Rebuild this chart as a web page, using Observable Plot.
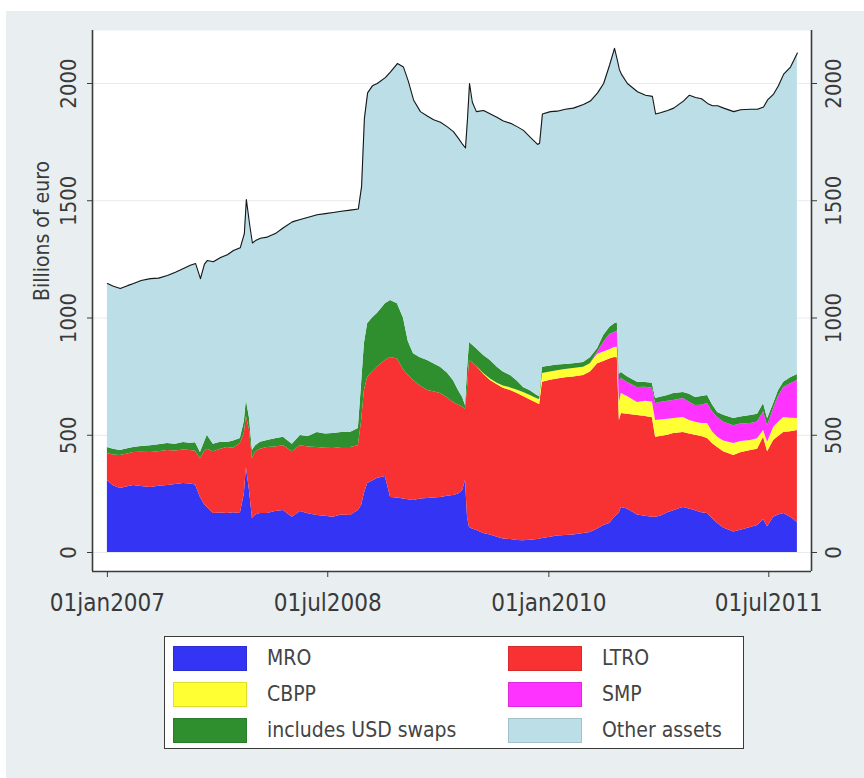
<!DOCTYPE html>
<html>
<head>
<meta charset="utf-8">
<script src="https://cdn.jsdelivr.net/npm/d3@7"></script>
<script src="https://cdn.jsdelivr.net/npm/@observablehq/plot@0.6"></script>
<style>
  html, body { margin: 0; padding: 0; background: #ffffff; }
  #page { position: relative; width: 864px; height: 778px; overflow: hidden; background: #ffffff; }
  #panel { position: absolute; left: 6px; top: 11px; width: 858px; height: 767px; background: #e9eff1; }
  #chart { position: absolute; left: 0; top: 0; }
  #legend {
    position: absolute; left: 164px; top: 636px; width: 580px; height: 113px;
    background: #ffffff; border: 1.5px solid #3a3a3a; box-sizing: border-box;
    font-family: "Liberation Sans Narrow", "DejaVu Sans Condensed", "Liberation Sans", sans-serif;
    font-size: 21px; color: #444444;
  }
  .item { position: absolute; display: flex; align-items: center; height: 26px; }
  .sw { width: 74px; height: 25px; box-sizing: border-box; margin-right: 20px; }
</style>
</head>
<body>
<div id="page">
  <div id="panel"></div>
  <div id="chart"></div>
  <div id="legend"></div>
</div>
<script>
// Eurosystem balance sheet, assets in billions of euro (weekly statements, sampled)
const dates = [
  "2007-01-01","2007-01-16","2007-02-02","2007-02-20","2007-03-07","2007-03-26","2007-04-18","2007-05-08",
  "2007-05-30","2007-06-19","2007-07-09","2007-07-26","2007-08-08","2007-08-20","2007-08-30","2007-09-06",
  "2007-09-21","2007-10-09","2007-10-26","2007-11-10","2007-11-27","2007-12-07","2007-12-12","2007-12-20",
  "2007-12-27","2008-01-04","2008-01-16","2008-02-02","2008-02-22","2008-03-13","2008-04-04","2008-04-24",
  "2008-05-14","2008-06-05","2008-06-25","2008-07-15","2008-08-04","2008-08-26","2008-09-15","2008-09-23",
  "2008-09-30","2008-10-08","2008-10-20","2008-11-01","2008-11-21","2008-12-04","2008-12-21","2009-01-05",
  "2009-01-17","2009-01-30","2009-02-16","2009-03-06","2009-03-21","2009-04-07","2009-04-24","2009-05-09",
  "2009-05-22","2009-06-01","2009-06-08","2009-06-13","2009-06-18","2009-06-25","2009-07-05","2009-07-23",
  "2009-08-09","2009-08-26","2009-09-10","2009-09-28","2009-10-15","2009-10-30","2009-11-16","2009-12-04",
  "2009-12-09","2009-12-16","2010-01-05","2010-01-22","2010-02-11","2010-03-03","2010-03-28","2010-04-14",
  "2010-05-02","2010-05-17","2010-06-01","2010-06-13","2010-06-20","2010-06-25","2010-06-30","2010-07-15",
  "2010-08-09","2010-08-29","2010-09-15","2010-09-23","2010-10-05","2010-10-23","2010-11-07","2010-11-19",
  "2010-12-01","2010-12-16","2010-12-31","2011-01-15","2011-01-30","2011-02-11","2011-02-24","2011-03-11",
  "2011-04-05","2011-04-22","2011-05-17","2011-06-03","2011-06-18","2011-06-28","2011-07-13","2011-07-25",
  "2011-08-07","2011-08-24","2011-09-10"
];

// Main refinancing operations
const mro = [
  307,285,273,280,286,282,277,283, 286,290,294,292,288,235,205,192,
  166,168,166,170,166,250,363,260, 145,160,166,166,175,179,150,175,
  165,158,155,150,160,158,179,200, 252,294,305,316,324,235,232,228,
  225,222,228,230,232,235,240,243, 250,264,307,150,107,100,95,81,
  75,65,58,55,51,50,52,55, 56,60,65,70,72,75,81,85,
  100,115,124,150,160,170,192,185, 160,155,150,150,155,170,178,185,
  192,185,178,170,166,145,124,105, 87,95,107,115,140,110,150,160,
  166,150,128
];

// Longer-term refinancing operations
const ltro = [
  115,131,141,140,140,146,149,147, 149,143,143,143,144,165,225,248,
  264,272,282,275,299,260,217,260, 255,270,274,282,275,276,280,280,
  285,290,290,294,288,290,276,360, 439,453,465,474,495,597,593,552,
  530,511,482,461,453,443,420,397, 378,356,303,550,712,710,700,679,
  658,650,642,636,627,615,598,580, 574,666,670,670,673,673,674,685,
  705,700,701,682,670,393,401,405, 424,425,425,341,340,330,329,325,
  320,320,322,325,320,320,324,325, 327,330,328,325,351,320,328,335,
  346,365,392
];

// Covered bond purchase programme
const cbpp = [
  0,0,0,0,0,0,0,0, 0,0,0,0,0,0,0,0,
  0,0,0,0,0,0,0,0, 0,0,0,0,0,0,0,0,
  0,0,0,0,0,0,0,0, 0,0,0,0,0,0,0,0,
  0,0,0,0,0,0,0,0, 0,0,0,0,0,0,0,3,
  7,7,10,11,14,17,20,20, 22,37,35,35,35,37,35,35,
  40,40,40,42,45,77,85,75, 56,65,67,72,70,68,64,64,
  64,58,55,55,64,50,43,45, 51,48,43,45,29,40,55,60,
  64,58,51
];

// Securities markets programme
const smp = [
  0,0,0,0,0,0,0,0, 0,0,0,0,0,0,0,0,
  0,0,0,0,0,0,0,0, 0,0,0,0,0,0,0,0,
  0,0,0,0,0,0,0,0, 0,0,0,0,0,0,0,0,
  0,0,0,0,0,0,0,0, 0,0,0,0,0,0,0,0,
  0,0,0,0,0,0,0,0, 0,0,0,0,0,0,0,0,
  10,40,65,64,70,90,64,60, 64,60,58,72,75,77,77,78,
  81,78,72,78,85,85,85,80, 76,75,72,72,80,70,81,110,
  128,147,162
];

// Other lending, including USD swap operations
const usd = [
  26,24,21,22,22,24,29,30, 30,29,32,31,36,26,40,60,
  32,30,21,30,21,50,70,50, 35,25,30,30,35,36,32,44,
  45,64,60,63,64,64,74,160, 200,229,230,229,242,243,236,220,
  145,115,120,128,120,112,105,93, 62,41,17,80,77,75,75,77,
  79,68,60,53,38,22,20,13, 13,27,25,25,22,20,20,25,
  15,30,30,38,35,30,26,25, 22,20,22,22,22,25,30,28,
  25,34,34,37,35,30,21,30, 30,30,34,33,35,30,21,25,
  22,25,26
];

// Total assets (black line)
const total = [
  1147,1135,1126,1138,1147,1160,1168,1170, 1181,1195,1211,1225,1232,1168,1230,1245,
  1240,1258,1270,1288,1300,1360,1505,1400, 1320,1330,1340,1345,1360,1385,1410,1420,
  1430,1440,1445,1450,1455,1460,1465,1560, 1850,1960,1990,2000,2025,2050,2085,2070,
  2010,1930,1880,1860,1845,1835,1815,1795, 1765,1740,1725,1850,2000,1920,1880,1885,
  1870,1855,1840,1830,1815,1800,1770,1740, 1745,1870,1880,1882,1890,1895,1910,1925,
  1960,2000,2080,2150,2100,2060,2040,2000, 1965,1950,1945,1870,1875,1885,1895,1910,
  1925,1950,1940,1935,1915,1905,1905,1895, 1880,1888,1890,1890,1900,1930,1955,1990,
  2040,2070,2130
];

const seriesNames = ["MRO", "LTRO", "CBPP", "SMP", "includes USD swaps", "Other assets"];
const seriesColors = ["#3434f4", "#f83232", "#ffff33", "#ff33ff", "#2f8f2f", "#bcdfe7"];
const yTicks = [0, 500, 1000, 1500, 2000];
const xTicks = ["2007-01-01", "2008-07-01", "2010-01-01", "2011-07-01"];

const parse = d3.utcParse("%Y-%m-%d");
const FONT = '"Liberation Sans Narrow", "DejaVu Sans Condensed", "Liberation Sans", sans-serif';

// Long table for the stacked areas; "Other assets" fills up to the total.
const components = [mro, ltro, cbpp, smp, usd];
const other = total.map((t, i) => t - components.reduce((s, a) => s + a[i], 0));
const stackRows = [];
[...components, other].forEach((arr, k) => {
  arr.forEach((v, i) => stackRows.push({date: parse(dates[i]), series: seriesNames[k], value: v}));
});
const totalRows = total.map((v, i) => ({date: parse(dates[i]), value: v}));

const xDomain = [parse("2006-11-25"), parse("2011-10-15")];
const yDomain = [-81, 2226];
const fmtDate = d => d3.utcFormat("%d%b%Y")(d).toLowerCase();
const axisColor = "#3a3a3a";

const chart = Plot.plot({
  width: 864,
  height: 625,
  marginLeft: 92,
  marginRight: 53,
  marginTop: 30,
  marginBottom: 54,
  style: {background: "transparent", fontFamily: FONT, color: axisColor},
  x: {type: "utc", domain: xDomain, axis: null},
  y: {domain: yDomain, axis: null},
  color: {domain: seriesNames, range: seriesColors},
  marks: [
    Plot.frame({fill: "white", stroke: null}),
    Plot.ruleY(yTicks, {stroke: "#e6ecec", strokeWidth: 1}),
    Plot.areaY(stackRows, {x: "date", y: "value", z: "series", fill: "series", order: seriesNames}),
    Plot.lineY(totalRows, {x: "date", y: "value", stroke: "#161616", strokeWidth: 1.1}),
    // axis lines: left, right, bottom
    Plot.ruleX([xDomain[0], xDomain[1]], {stroke: axisColor, strokeWidth: 1.6}),
    Plot.ruleY([yDomain[0]], {stroke: axisColor, strokeWidth: 1.6}),
    // tick marks
    Plot.axisY(yTicks, {anchor: "left", tickSize: 5, tickFormat: () => "", label: null, stroke: axisColor}),
    Plot.axisY(yTicks, {anchor: "right", tickSize: 5, tickFormat: () => "", label: null, stroke: axisColor}),
    Plot.axisX(xTicks.map(parse), {anchor: "bottom", tickSize: 6, tickFormat: () => "", label: null, stroke: axisColor}),
    // tick labels
    Plot.text(yTicks, {y: d => d, text: d => String(d), frameAnchor: "left", dx: -24, rotate: -90,
      textAnchor: "middle", lineAnchor: "middle", fontSize: 22, fill: axisColor}),
    Plot.text(yTicks, {y: d => d, text: d => String(d), frameAnchor: "right", dx: 22, rotate: -90,
      textAnchor: "middle", lineAnchor: "middle", fontSize: 22, fill: axisColor}),
    Plot.text(xTicks.map(parse), {x: d => d, text: fmtDate, frameAnchor: "bottom", dy: 32,
      lineAnchor: "middle", fontSize: 24, fill: axisColor}),
    Plot.text(["Billions of euro"], {frameAnchor: "left", dx: -50, rotate: -90,
      lineAnchor: "middle", fontSize: 21, fill: axisColor})
  ]
});
document.getElementById("chart").appendChild(chart);

// Legend: two columns, three rows
const legend = document.getElementById("legend");
const legendOrder = [["MRO", "LTRO"], ["CBPP", "SMP"], ["includes USD swaps", "Other assets"]];
legendOrder.forEach((row, r) => {
  row.forEach((name, c) => {
    const k = seriesNames.indexOf(name);
    const item = document.createElement("div");
    item.className = "item";
    item.style.left = (c === 0 ? 8 : 343) + "px";
    item.style.top = (8 + r * 36) + "px";
    const sw = document.createElement("div");
    sw.className = "sw";
    sw.style.background = seriesColors[k];
    sw.style.border = "1px solid " + d3.color(seriesColors[k]).darker(0.4);
    const label = document.createElement("span");
    label.textContent = name;
    item.appendChild(sw);
    item.appendChild(label);
    legend.appendChild(item);
  });
});
</script>
</body>
</html>
